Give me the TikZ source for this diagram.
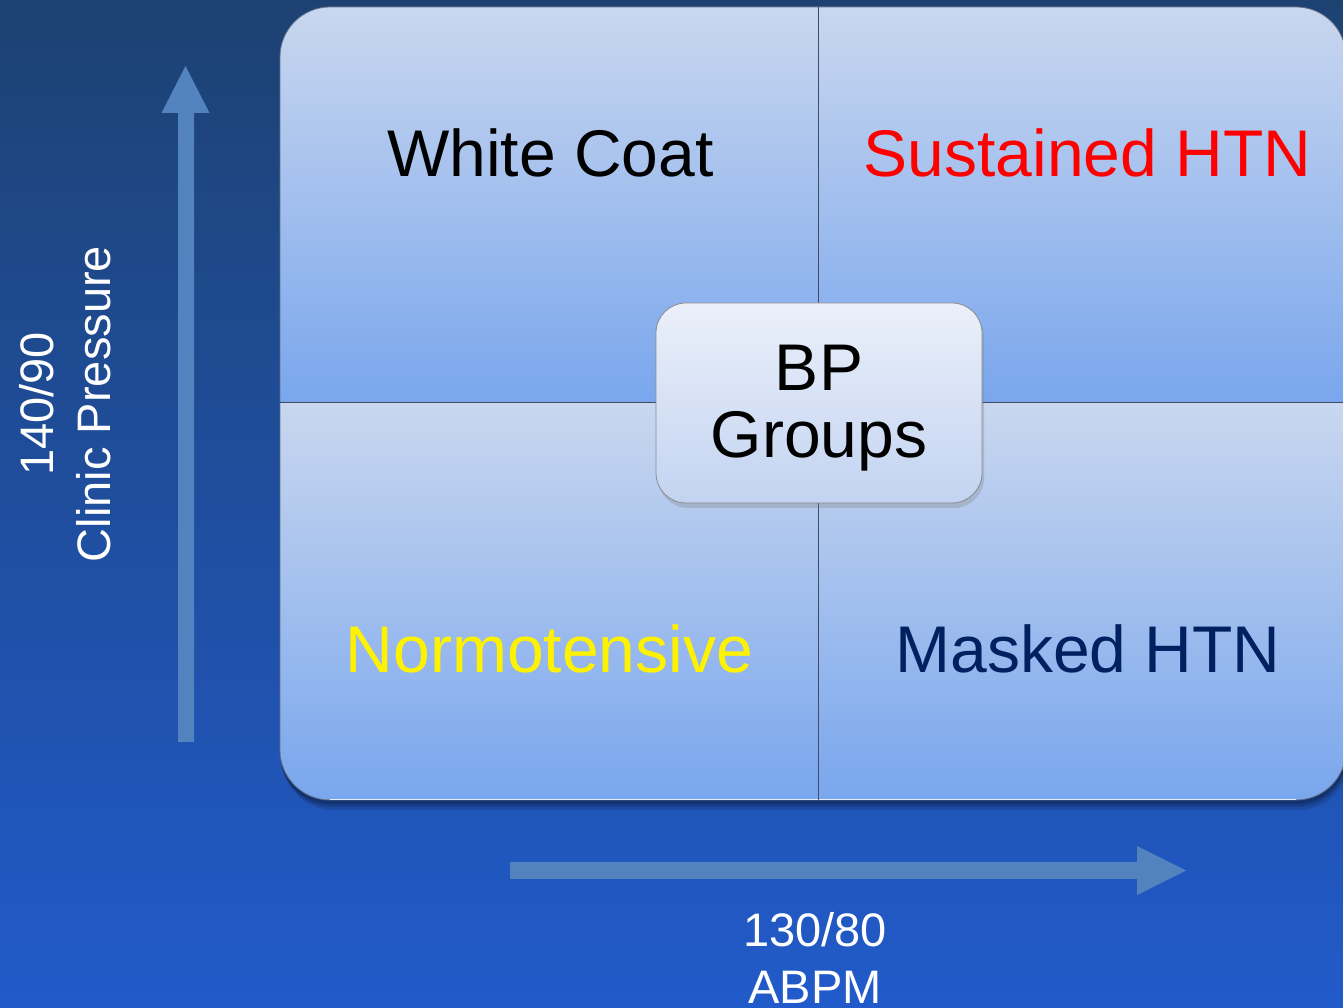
\documentclass[tikz,border=0pt]{standalone}
\usepackage{fontspec}
\setmainfont{Liberation Sans}
\usetikzlibrary{shadows}
\definecolor{bgtop}{RGB}{29,66,114}
\definecolor{bgbot}{RGB}{33,90,202}
\definecolor{qtop}{RGB}{201,215,239}
\definecolor{qbot}{RGB}{121,166,237}
\definecolor{ctop}{RGB}{235,240,250}
\definecolor{cbot}{RGB}{194,211,241}
\definecolor{arrowc}{RGB}{82,131,190}
\definecolor{maskedc}{RGB}{0,32,96}
\definecolor{divc}{RGB}{62,76,102}
\begin{document}
\begin{tikzpicture}[x=1pt,y=1pt,
  quadshade/.style={top color=qtop,bottom color=qbot},
  divider/.style={draw=divc,line width=1pt},
  bigtext/.style={font=\fontsize{66}{67}\selectfont,inner sep=0pt,anchor=base},
  axislabel/.style={font=\fontsize{47}{57}\selectfont,text=white,align=center,inner sep=0pt},
  axisarrow/.style={fill=arrowc},
  centerbox/.style={draw=black!45,line width=0.8pt,rounded corners=30pt,top color=ctop,bottom color=cbot,
    minimum width=326pt,minimum height=200pt,
    drop shadow={opacity=0.3,shadow xshift=2pt,shadow yshift=-5pt}}
]
\useasboundingbox (0,0) rectangle (1343,1008);
% background
\shade[top color=bgtop,bottom color=bgbot] (0,0) rectangle (1343,1008);
% shadow of matrix
\fill[black,opacity=0.12,rounded corners=52pt] (282,198) rectangle (1350,996);
\fill[black,opacity=0.15,rounded corners=51pt] (281,201) rectangle (1348,998);
\fill[black,opacity=0.18,rounded corners=50pt] (280,204) rectangle (1347,1000);
% quadrants
\begin{scope}
\clip[rounded corners=50pt] (280,208) rectangle (1346,1001);
\shade[quadshade] (280,605) rectangle (818,1001);
\shade[quadshade] (818,605) rectangle (1346,1001);
\shade[quadshade] (280,208) rectangle (818,605);
\shade[quadshade] (818,208) rectangle (1346,605);
\end{scope}
\draw[draw=divc!80,line width=0.8pt,rounded corners=50pt] (280,208) rectangle (1346,1001);
\draw[white!80!qbot,line width=0.8pt] (330,209) -- (1296,209);
\coordinate (vtop) at (818,1001);
\coordinate (vbot) at (818,208);
\coordinate (hleft) at (280,605);
\coordinate (hright) at (1346,605);
\draw[divider] (vtop) -- (vbot);
\draw[divider] (hleft) -- (hright);
% quadrant labels
\node[bigtext,text=black] (wc) at (550.5,831) {White Coat};
\node[bigtext,text=red] (sh) at (1087.5,831) {Sustained HTN};
\node[bigtext,text=yellow] (nt) at (549.5,335) {Normotensive};
\node[bigtext,text=maskedc] (mh) at (1088,335) {Masked HTN};
% centre box
\node[centerbox] (bp) at (819,605) {};
\node[font=\fontsize{66}{67}\selectfont,align=center,inner sep=0pt] (bptext) at ([yshift=-5pt]bp.center) {BP\\Groups};
% axis arrows
\fill[axisarrow] (178,266) -- (194,266) -- (194,895) -- (209.5,895) -- (185.5,942) -- (161.5,895) -- (178,895) -- cycle;
\fill[axisarrow] (510,129) -- (1137,129) -- (1137,113) -- (1186,137.5) -- (1137,162) -- (1137,146) -- (510,146) -- cycle;
% axis labels
\node[axislabel,rotate=90] (clinic) at (65,604) {140/90\\Clinic Pressure};
\node[axislabel] (abpm) at (815,50) {130/80\\ABPM};
\end{tikzpicture}
\end{document}
